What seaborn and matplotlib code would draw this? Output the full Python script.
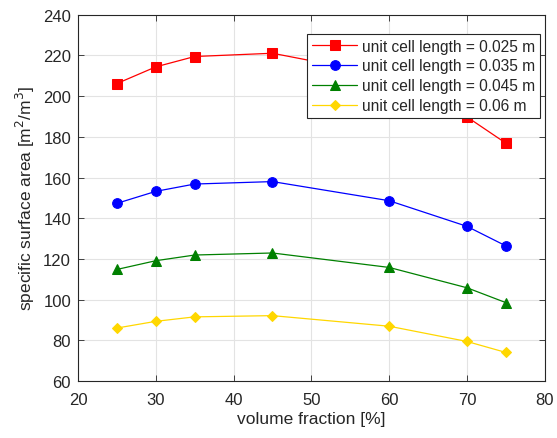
import matplotlib
matplotlib.use("Agg")
import matplotlib.pyplot as plt
import pandas as pd
import seaborn as sns

# Data
volume_fraction = [25, 30, 35, 45, 60, 70, 75]
area_0025 = [206.2, 214.4, 219.5, 221.1, 210.0, 189.8, 176.9]
area_0035 = [147.3, 153.2, 156.8, 158.0, 148.6, 136.0, 126.4]
area_0045 = [114.8, 119.1, 121.9, 122.9, 115.8, 105.8, 98.5]
area_006 = [86.0, 89.3, 91.5, 92.1, 86.9, 79.4, 74.0]
labels = ["unit cell length = 0.025 m", "unit cell length = 0.035 m",
          "unit cell length = 0.045 m", "unit cell length = 0.06 m"]

df = pd.concat([
    pd.DataFrame({"x": volume_fraction, "y": vals, "series": lab})
    for vals, lab in zip([area_0025, area_0035, area_0045, area_006], labels)
])

sns.set_style("whitegrid")
plt.rcParams["font.family"] = ["Liberation Sans", "DejaVu Sans"]

colors = ["#ff0000", "#0000ff", "#008000", "#ffd700"]
markers = ["s", "o", "^", "D"]
sizes = [6.5, 7, 7, 5.5]

fig = plt.figure(figsize=(5.57, 4.39), dpi=100)
ax = fig.add_axes([0.14, 0.13, 0.838, 0.834])

for lab, c, m, s in zip(labels, colors, markers, sizes):
    sns.lineplot(data=df[df["series"] == lab], x="x", y="y", ax=ax, color=c,
                 marker=m, markersize=s, markeredgecolor=c, linewidth=0.9,
                 label=lab)

ax.set_xlim(20, 80)
ax.set_ylim(60, 240)
ax.set_xticks(range(20, 81, 10))
ax.set_yticks(range(60, 241, 20))
ax.set_xlabel("volume fraction [%]", fontsize=12.5, color="#262626", labelpad=3)
ax.set_ylabel("specific surface area [m$^2$/m$^3$]", fontsize=12.5, color="#262626")
ax.tick_params(labelsize=12, colors="#262626", direction="in", length=4,
               top=True, right=True, bottom=True, left=True, width=0.6)
ax.tick_params(axis="x", pad=8)
ax.tick_params(axis="y", pad=5)
ax.grid(True, color="#e3e3e3", linewidth=0.8)
for sp in ax.spines.values():
    sp.set_color("#262626")
    sp.set_linewidth(0.8)

leg = ax.legend(loc="upper right", bbox_to_anchor=(0.989, 0.948),
                fontsize=11.2, frameon=True, fancybox=False,
                framealpha=1, edgecolor="#262626", borderpad=0.3,
                handlelength=2.9, handletextpad=0.3, labelspacing=0.32,
                borderaxespad=0)
leg.get_frame().set_linewidth(0.8)

fig.savefig("out.png", dpi=100)
